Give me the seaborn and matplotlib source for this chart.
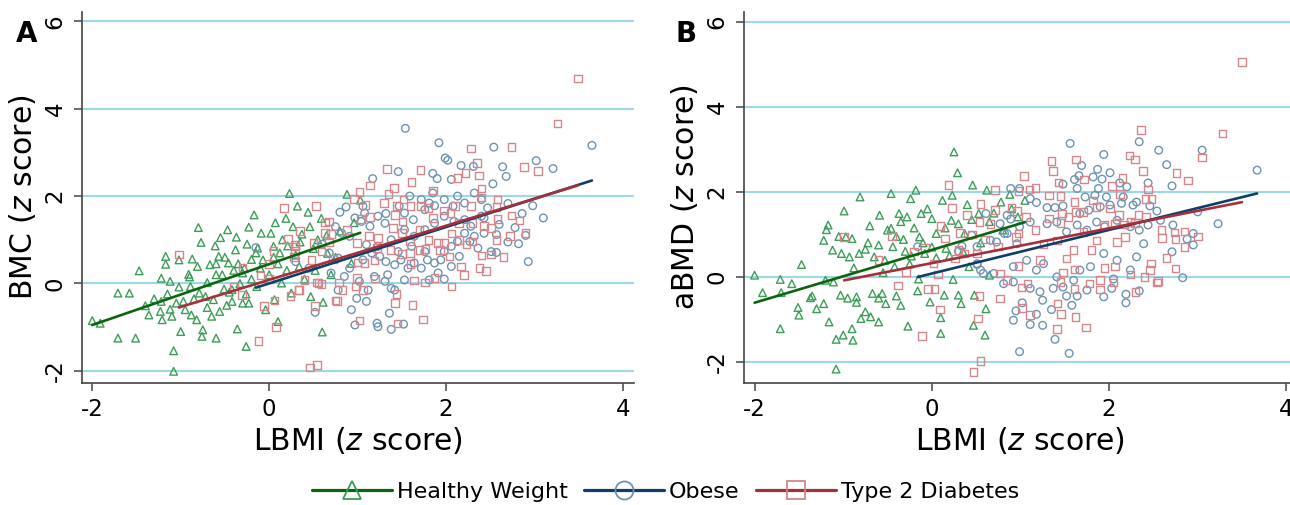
import numpy as np
import pandas as pd
import matplotlib
matplotlib.use("Agg")
import matplotlib.pyplot as plt
from matplotlib.lines import Line2D
import seaborn as sns

# (LBMI z, BMC z) per group - panel A
hw_bmc = [(-2.0,-0.85),(-1.91,-0.91),(-1.71,-0.22),(-1.58,-0.22),(-1.71,-1.25),(-1.51,-1.25),(-1.47,0.29),(-1.40,-0.51),
          (-1.36,-0.72),(-1.22,0.12),(-1.17,0.62),(-1.17,0.44),(-1.12,0.05),(-1.15,-0.24),(-1.22,-0.41),(-1.23,-0.64),
          (-1.21,-0.83),(-1.12,-0.59),(-1.08,-1.54),(-1.08,-2.01),(-1.02,-0.08),(-1.02,0.54),(-1.00,-1.10),(-0.97,-0.41),
          (-0.91,0.21),(-0.89,-0.07),(-0.88,-0.72),(-0.87,0.56),(-0.80,1.28),(-0.77,0.94),(-0.81,0.39),(-0.79,-0.22),
          (-0.82,-0.83),(-0.76,-1.21),(-0.75,-1.06),(-0.70,0.02),(-0.67,0.43),(-0.63,-0.37),(-0.61,0.86),(-0.60,-1.25),
          (-0.57,0.62),(-0.56,-0.64),(-0.53,0.20),(-0.51,-0.13),(-0.47,1.23),(-0.46,0.47),(-0.42,-0.14),(-0.42,-0.41),
          (-0.38,0.77),(-0.37,1.06),(-0.36,-1.04),(-0.30,0.24),(-0.28,0.35),(-0.26,-1.44),(-0.26,-0.24),(-0.23,1.29),
          (-0.23,-0.45),(-0.17,1.57),(-0.14,-0.07),(-0.13,0.81),(-0.09,1.15),(-0.07,0.54),(-0.04,-0.60),(0.02,1.15),
          (0.05,0.85),(0.06,-0.37),(0.07,1.39),(0.10,-0.87),(0.14,0.01),(0.19,1.49),(0.21,0.86),(0.23,2.06),
          (0.25,-0.22),(0.27,1.30),(0.32,1.77),(0.34,0.39),(0.37,1.13),(0.44,1.63),(0.46,1.30),(0.47,-0.30),
          (0.52,0.30),(0.59,1.49),(0.60,-1.11),(0.61,-0.43),(0.66,0.69),(0.70,0.20),(0.88,2.04),(0.96,1.39),
          (1.03,1.91),(0.93,0.46),(-0.50,0.60),(-0.35,0.45),(-0.20,0.10),(-0.60,0.20),(-0.90,0.15),(-1.05,-0.45),
          (-0.70,-0.55),(-0.20,0.55),(0.00,0.20),(0.10,0.45),(-0.45,-0.20),(0.30,0.65),(0.15,1.00),(-0.55,1.05),
          (-0.30,-0.45),(-0.65,-0.75),(-1.30,-0.35),(0.40,0.10),(-0.10,0.35),(0.55,1.00),(-0.95,-0.60),(-0.72,-0.30),
          (-0.48,-0.50),(-0.33,0.00),(-0.15,0.70),(0.05,0.60),(0.20,0.30),(0.35,0.95),(0.50,0.80),(0.80,1.20),
          (0.75,0.60),(-0.25,0.90),(-0.60,0.45),(-0.85,-0.35),(-1.10,-0.75),(-0.40,0.30),(0.12,0.70),(0.65,1.10)]

ob_bmc = [(1.54,3.55),(1.92,3.22),(1.99,2.87),(2.02,2.82),(2.54,3.12),(3.65,3.16),(3.02,2.81),(3.21,2.63),
          (2.64,2.67),(2.68,2.45),(2.17,2.70),(2.31,2.68),(1.46,2.56),(1.17,2.40),(1.85,2.52),(1.90,2.40),
          (2.06,2.38),(2.53,2.28),(2.98,1.78),(2.86,1.60),(2.78,1.28),(2.82,0.91),(2.93,0.50),(2.70,1.83),
          (2.57,1.12),(2.51,0.73),(2.57,0.71),(0.80,1.63),(0.87,1.75),(0.82,1.15),(0.91,1.08),(0.78,0.58),
          (0.91,0.35),(0.52,-0.66),(0.93,-0.60),(0.97,-0.95),(0.99,-0.34),(1.10,-0.41),(1.22,-0.91),(1.34,0.20),
          (1.38,-0.11),(1.42,-0.15),(1.52,-0.93),(1.38,-1.05),(1.32,1.60),(1.08,1.61),(1.04,1.42),(1.14,1.31),
          (1.23,1.54),(1.31,1.38),(1.53,1.61),(1.63,1.46),(1.72,1.92),(1.76,1.69),(1.85,2.07),(1.87,1.78),
          (1.98,1.92),(2.13,2.00),(2.21,1.84),(2.32,2.07),(2.40,1.92),(2.47,1.73),(2.40,1.54),(2.28,1.31),
          (2.21,1.15),(2.13,0.96),(2.06,0.85),(1.98,0.73),(1.94,0.54),(1.87,0.47),(1.79,0.54),(1.72,0.35),
          (1.64,0.47),(1.57,0.35),(1.49,0.54),(1.42,0.43),(1.32,0.50),(1.25,0.62),(1.16,0.70),(1.10,0.89),
          (1.06,0.54),(1.23,0.85),(1.38,1.00),(1.53,1.23),(1.64,1.08),(1.76,1.23),(1.87,1.38),(1.98,1.54),
          (2.09,1.42),(2.21,1.46),(2.32,1.08),(2.43,1.15),(2.36,0.81),(2.27,0.96),(2.15,0.62),(2.06,0.39),
          (1.91,0.24),(1.81,0.08),(1.98,0.10),(1.76,0.73),(1.61,0.85),(1.46,0.73),(1.53,0.08),(1.31,0.05),
          (1.19,0.16),(1.12,-0.15),(1.02,0.05),(0.85,0.16),(0.70,0.24),(0.68,0.70),(0.78,-0.15),(2.43,1.50),
          (1.81,1.84),(1.59,2.00),(1.47,1.77),(1.06,1.77),(2.08,1.77),(0.97,1.50),(1.23,-0.99),(1.36,-0.68),
          (-0.15,0.82),(0.60,0.90),(0.75,1.30),(2.60,1.35),(2.70,0.95),(0.30,0.50),(0.45,0.35),(3.10,1.50),
          (2.90,1.10)]

t2_bmc = [(-1.02,0.66),(-0.10,0.18),(-0.40,-0.07),(-0.31,-0.27),(-0.06,-0.52),(0.06,-0.39),(0.08,-1.00),(-0.12,-1.32),
          (0.17,1.73),(0.00,0.45),(0.00,0.10),(0.24,-0.29),(0.33,-0.15),(0.21,1.02),(0.29,0.88),(0.29,0.75),
          (0.28,0.60),(0.46,-1.92),(0.54,-1.86),(0.52,-0.51),(0.77,-0.40),(0.54,0.02),(0.59,-0.01),(1.02,-0.85),
          (1.42,-0.44),(1.45,-0.92),(1.62,-0.49),(1.74,-0.82),(3.49,4.69),(3.26,3.66),(2.28,3.09),(2.74,3.13),
          (2.88,2.66),(3.04,2.58),(2.35,2.76),(1.33,2.62),(1.71,2.59),(2.22,2.53),(2.13,2.42),(2.37,2.47),
          (1.61,2.32),(1.41,2.19),(1.14,2.24),(1.85,2.13),(2.40,2.17),(1.35,2.05),(1.02,2.09),(0.96,1.93),
          (1.52,1.92),(1.30,1.84),(1.09,1.80),(1.44,1.77),(1.60,1.77),(1.71,1.77),(1.80,1.73),(1.98,1.67),
          (2.10,1.77),(2.28,1.77),(2.40,1.97),(2.58,1.92),(2.57,1.75),(2.74,1.56),(2.83,1.44),(2.58,1.48),
          (1.14,1.52),(1.42,1.57),(1.51,1.42),(1.85,1.50),(2.05,1.61),(2.15,1.38),(2.06,1.14),(2.30,1.38),
          (2.43,1.31),(2.51,1.27),(2.72,1.08),(2.57,0.99),(2.30,0.96),(2.23,0.89),(2.15,1.00),(1.98,0.93),
          (1.91,0.93),(1.80,1.00),(1.70,1.23),(1.59,0.96),(1.50,1.15),(1.40,1.27),(1.23,1.04),(1.13,1.08),
          (1.04,1.48),(0.88,1.23),(0.70,1.13),(0.63,1.15),(0.63,1.40),(0.68,1.42),(0.53,1.77),(0.99,0.93),
          (1.22,0.81),(1.37,0.77),(1.50,0.67),(1.59,0.70),(1.70,0.76),(1.77,0.79),(1.93,0.77),(2.04,0.62),
          (2.40,0.64),(2.51,0.66),(2.17,0.39),(2.38,0.35),(2.45,0.28),(2.06,-0.07),(1.87,0.12),(1.76,0.02),
          (1.64,0.07),(1.60,0.44),(1.19,0.53),(1.08,0.47),(1.00,0.48),(1.20,0.11),(0.99,0.12),(0.98,-0.07),
          (1.06,-0.15),(0.83,-0.15),(0.79,0.02),(0.72,0.56),(0.59,0.73),(0.48,0.54),(0.40,0.08),(0.34,-0.15),
          (0.56,0.01),(0.75,-0.39),(1.44,-0.24),(0.30,0.85),(0.50,0.93),(0.68,0.94),(2.90,1.15),(2.65,0.60),
          (2.20,0.20),(0.05,0.75),(-0.30,0.35),(0.35,1.20)]

# (LBMI z, aBMD z) per group - panel B
hw_abmd = [(-2.0,0.04),(-1.91,-0.37),(-1.71,-0.06),(-1.70,-0.37),(-1.71,-1.22),(-1.58,-0.16),(-1.51,-0.72),(-1.47,0.29),
           (-1.37,-0.49),(-1.35,-0.45),(-1.22,-0.63),(-1.20,-0.08),(-1.19,1.11),(-1.17,1.22),(-1.22,0.86),(-1.16,-1.06),
           (-1.12,0.63),(-1.11,-0.12),(-1.08,-1.47),(-1.08,-2.17),(-1.03,-0.43),(-1.02,0.55),(-1.00,-1.37),(-0.99,1.55),
           (-0.97,0.94),(-0.93,0.47),(-0.90,-1.22),(-0.89,-1.49),(-0.88,0.21),(-0.85,-0.47),(-0.82,0.55),(-0.81,1.88),
           (-0.80,-0.98),(-0.75,-0.82),(-0.72,0.80),(-0.69,-0.94),(-0.67,-0.39),(-0.65,0.47),(-0.60,-1.06),(-0.59,1.45),
           (-0.56,-0.39),(-0.53,0.39),(-0.52,-0.63),(-0.46,1.96),(-0.46,1.14),(-0.44,0.71),(-0.42,0.24),(-0.37,1.49),
           (-0.35,-0.67),(-0.32,0.88),(-0.28,1.41),(-0.27,-1.16),(-0.24,1.84),(-0.23,0.49),(-0.18,2.04),(-0.16,-0.33),
           (-0.14,0.94),(-0.12,1.49),(-0.08,0.55),(-0.02,-0.59),(0.00,1.37),(0.05,1.02),(0.10,-1.33),(0.10,-0.96),
           (0.12,1.80),(0.14,-0.43),(0.16,0.67),(0.22,1.33),(0.23,1.92),(0.24,-0.06),(0.25,2.94),(0.29,2.45),
           (0.30,-0.43),(0.33,-0.63),(0.37,1.02),(0.42,0.24),(0.46,2.16),(0.47,-1.14),(0.48,-0.43),(0.53,1.49),
           (0.60,-1.37),(0.61,-0.75),(0.62,2.04),(0.65,0.04),(0.78,1.76),(0.88,1.94),(0.97,1.41),(1.05,1.80),
           (-0.90,0.90),(-0.75,0.65),(-0.60,0.75),(-0.50,1.10),(-0.40,0.95),(-0.30,0.60),(-0.20,1.15),(-0.10,0.80),
           (0.05,0.45),(0.15,1.15),(0.30,1.25),(0.35,0.60),(0.45,1.35),(0.55,0.80),(0.70,1.50),(-1.05,0.95),
           (-0.70,1.20),(-0.55,0.10),(-0.25,0.30),(0.00,0.70),(0.20,0.50),(-0.85,-0.60),(-0.60,-0.50),(-0.40,-0.45),
           (-0.15,-0.05),(0.40,1.70),(-0.95,-0.50),(0.65,1.30),(-0.35,1.30),(-0.05,1.60),(0.90,1.60),(0.80,1.10),
           (-1.50,-0.90),(-1.30,-0.75)]

ob_abmd = [(3.67,2.51),(1.56,3.14),(2.34,3.18),(1.94,2.88),(2.56,2.98),(3.05,2.98),(2.65,2.64),(2.71,2.14),
           (1.69,2.62),(1.87,2.53),(2.01,2.45),(1.61,2.29),(1.66,2.38),(1.82,2.35),(1.92,2.30),(1.88,2.08),
           (1.48,2.18),(1.64,2.08),(2.12,2.21),(2.20,2.12),(2.44,2.21),(0.89,2.08),(0.99,2.08),(1.11,1.84),
           (1.18,1.75),(1.30,1.63),(1.39,1.63),(1.48,1.67),(1.67,1.49),(1.77,1.57),(1.90,1.65),(2.01,1.69),
           (2.14,1.73),(2.27,1.69),(2.46,1.67),(2.54,1.55),(2.31,1.76),(2.16,1.88),(1.97,1.88),(1.84,1.92),
           (1.73,1.88),(0.85,1.45),(0.77,1.25),(0.99,1.18),(1.11,1.29),(1.30,1.25),(1.41,1.29),(1.52,1.06),
           (1.64,1.22),(1.75,1.10),(1.86,1.29),(1.95,1.18),(2.09,1.33),(2.24,1.18),(2.34,1.10),(2.44,1.22),
           (2.58,1.33),(2.72,1.22),(2.88,0.89),(2.95,1.02),(3.23,1.25),(3.00,1.53),(2.71,0.59),(2.39,0.78),
           (2.31,0.47),(2.24,0.16),(2.09,0.39),(1.94,0.55),(1.79,0.24),(1.67,0.16),(1.60,-0.08),(1.48,-0.24),
           (1.41,0.00),(1.26,0.31),(1.18,0.16),(1.07,0.39),(0.96,0.78),(0.85,1.02),(0.73,0.82),(0.51,0.31),
           (0.55,0.16),(0.58,0.08),(0.70,0.08),(0.92,-0.12),(1.11,-0.27),(1.22,-0.35),(1.37,-0.27),(1.64,-0.45),
           (1.75,-0.31),(1.94,-0.47),(2.03,-0.27),(2.19,-0.41),(2.19,-0.61),(2.34,-0.33),(2.83,-0.02),(1.02,-0.61),
           (1.18,-0.88),(1.11,-1.12),(1.25,-1.14),(0.92,-1.02),(0.95,-0.80),(1.39,-1.47),(1.58,-0.67),(0.99,-1.76),
           (1.55,-1.80),(1.35,-0.77),(0.66,0.86),(0.51,0.71),(0.45,0.98),(0.92,0.24),(0.81,-0.16),(-0.16,0.71),
           (0.51,0.29),(0.89,1.36),(0.82,1.02),(0.61,1.49),(0.34,0.72),(2.95,0.75),(0.30,0.60),(1.52,-0.45),
           (2.05,-0.05),(1.25,-0.55)]

t2_abmd = [(-0.99,0.94),(-0.38,-0.20),(-0.29,0.12),(-0.11,-1.39),(-0.04,-0.28),(0.03,-0.28),(0.09,-0.77),(0.02,0.31),
           (-0.08,0.68),(0.19,2.16),(0.23,1.62),(0.07,0.06),(0.30,0.63),(0.26,0.43),(0.32,1.03),(0.54,-0.45),
           (0.52,-0.98),(0.77,-0.51),(0.55,1.71),(0.47,-2.24),(0.55,-1.98),(3.50,5.06),(3.28,3.37),(2.36,3.45),
           (2.23,2.86),(2.29,2.76),(3.05,2.81),(1.35,2.72),(1.37,2.49),(1.63,2.76),(1.04,2.38),(1.43,2.22),
           (1.72,2.29),(2.15,2.33),(2.38,2.49),(2.76,2.45),(2.89,2.27),(0.71,2.05),(0.98,2.02),(1.10,2.06),
           (1.17,2.09),(1.32,1.91),(1.45,1.90),(1.61,1.76),(1.82,1.80),(2.03,2.14),(2.12,1.95),(2.44,2.06),
           (2.48,1.83),(2.41,1.83),(0.71,1.58),(0.90,1.63),(0.96,1.55),(1.06,1.41),(1.47,1.49),(1.62,1.53),
           (1.71,1.53),(1.86,1.65),(2.01,1.61),(2.11,1.45),(2.24,1.29),(2.33,1.45),(2.42,1.41),(0.54,1.29),
           (0.66,1.25),(0.98,1.02),(1.17,1.10),(1.32,1.37),(1.45,1.27),(1.54,1.41),(1.71,1.06),(1.94,1.22),
           (2.07,1.25),(2.17,1.23),(2.29,1.27),(2.59,1.10),(2.74,1.04),(2.85,1.07),(2.60,0.92),(2.75,0.89),
           (2.18,0.94),(2.09,0.82),(1.86,0.86),(1.80,0.63),(1.60,0.63),(1.52,0.43),(1.41,0.86),(1.26,0.78),
           (0.95,0.94),(0.75,0.71),(0.60,0.88),(0.51,0.55),(0.37,0.55),(0.77,0.08),(0.85,-0.08),(0.98,0.26),
           (1.22,0.39),(1.08,-0.16),(1.01,-0.25),(1.48,0.10),(1.61,0.17),(1.61,-0.29),(1.78,-0.16),(1.90,-0.08),
           (1.95,0.21),(2.07,0.24),(2.05,-0.13),(1.90,-0.30),(2.40,0.00),(2.46,0.16),(2.47,0.31),(2.54,-0.13),
           (2.24,0.06),(1.45,-0.12),(1.02,-0.73),(1.11,-0.90),(1.46,-0.88),(1.62,-0.94),(1.74,-1.19),(1.42,-0.63),
           (1.41,-1.22),(2.65,0.45),(2.85,0.70),(3.00,0.95),(2.55,-0.10),(2.30,-0.35),(2.75,0.20),(-0.45,0.95),
           (-0.20,0.60),(0.10,1.20),(0.40,1.45),(-0.60,0.40),(0.15,0.90),(0.45,1.00)]

group_names = ["Healthy Weight", "Obese", "Type 2 Diabetes"]
group_markers = ["^", "o", "s"]
marker_colors = ["#3c9d58", "#6d93b2", "#d5868b"]
line_colors = ["#0b650f", "#0f3f68", "#a3303b"]
grid_color = "#9dd9e4"
axis_color = "#444444"

sns.set_style("ticks")
plt.rcParams['font.family'] = ['DejaVu Sans']
plt.rcParams['mathtext.fontset'] = 'dejavusans'
plt.rcParams['axes.unicode_minus'] = False
plt.rcParams['text.color'] = 'black'
plt.rcParams['axes.labelcolor'] = 'black'
plt.rcParams['xtick.labelcolor'] = 'black'
plt.rcParams['ytick.labelcolor'] = 'black'


def draw_panel(ax, sets, ylabel, ylim, letter_x, letter):
    frames = [pd.DataFrame(s, columns=["x", "y"]) for s in sets]
    for df, m, mc in zip(frames, group_markers, marker_colors):
        sns.scatterplot(data=df, x="x", y="y", ax=ax, marker=m, s=30,
                        color=mc, facecolor="none", edgecolor=mc, linewidth=1.0,
                        zorder=3, legend=False)
    for df, lc in zip(frames, line_colors):
        sns.regplot(data=df, x="x", y="y", ax=ax, scatter=False, ci=None,
                    truncate=True, color=lc, line_kws={"lw": 1.9, "zorder": 4})
    ax.set_xlim(-2.12, 4.12)
    ax.set_ylim(*ylim)
    ax.set_xticks([-2, 0, 2, 4])
    ax.set_yticks([-2, 0, 2, 4, 6])
    ax.yaxis.grid(True, color=grid_color, lw=1.5)
    ax.xaxis.grid(False)
    ax.set_axisbelow(True)
    sns.despine(ax=ax)
    for side in ["left", "bottom"]:
        ax.spines[side].set_color(axis_color)
        ax.spines[side].set_linewidth(1.2)
    ax.tick_params(direction="out", length=6, width=1.1, color=axis_color,
                   labelcolor="black", labelsize=16.5, pad=5)
    ax.tick_params(axis="y", labelrotation=90)
    for lab in ax.get_yticklabels():
        lab.set_va("center")
    ax.set_xlabel("LBMI ($z$ score)", fontsize=21.5, labelpad=3)
    ax.set_ylabel(ylabel, fontsize=21.5, labelpad=4)
    fig.text(letter_x, 1 - 34 / 505, letter, fontsize=20, fontweight="bold",
             ha="center", va="center")


fig = plt.figure(figsize=(12.9, 5.05), dpi=100)
axA = fig.add_axes([0.0633, 0.2422, 0.4278, 0.7347])
axB = fig.add_axes([0.5767, 0.2422, 0.4287, 0.7347])

draw_panel(axA, [hw_bmc, ob_bmc, t2_bmc], "BMC ($z$ score)", (-2.27, 6.22), 27 / 1290, "A")
draw_panel(axB, [hw_abmd, ob_abmd, t2_abmd], "aBMD ($z$ score)", (-2.49, 6.24), 686 / 1290, "B")

handles = [Line2D([0], [0], color=lc, lw=2.3, marker=m, markersize=13,
                  markerfacecolor="none", markeredgecolor=mc, markeredgewidth=1.3)
           for m, mc, lc in zip(group_markers, marker_colors, line_colors)]
fig.legend(handles, group_names, loc="center", bbox_to_anchor=(0.516, 0.026), ncol=3,
           frameon=False, fontsize=16, handlelength=3.6, handletextpad=0.2,
           columnspacing=0.75)

fig.savefig("out.png", dpi=100)
